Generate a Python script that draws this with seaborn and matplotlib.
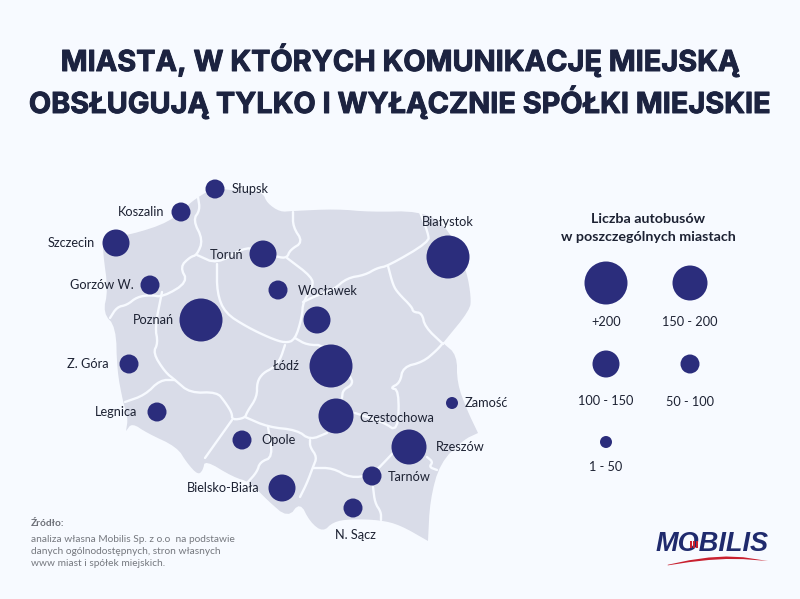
import matplotlib
matplotlib.use("Agg")
import numpy as np
import pandas as pd
import seaborn as sns
import matplotlib.pyplot as plt
from matplotlib.patches import Polygon, Rectangle
import matplotlib.patheffects as pe

sns.set_theme(style="white")
plt.rcParams['font.family'] = ['Lato', 'DejaVu Sans']

# ---------- data ----------
cities = ["Słupsk", "Koszalin", "Szczecin", "Gorzów W.", "Toruń", "Wocławek", "Płock", "Poznań",
          "Z. Góra", "Łódź", "Legnica", "Częstochowa", "Opole", "Rzeszów", "Tarnów",
          "Bielsko-Biała", "N. Sącz", "Zamość", "Białystok"]
city_x = [215, 181, 116, 150, 263, 278, 317, 201, 129, 331, 157, 336, 242, 409, 372, 282, 353, 452, 448]
city_y = [189, 212, 243, 285, 254, 290, 320, 320, 364, 366, 412, 416, 440, 447, 476, 488, 508, 403, 257]
city_class = ["50 - 100", "50 - 100", "100 - 150", "50 - 100", "100 - 150", "50 - 100", "100 - 150", "+200",
              "50 - 100", "+200", "50 - 100", "150 - 200", "50 - 100", "150 - 200", "50 - 100",
              "100 - 150", "50 - 100", "1 - 50", "+200"]
labels = ["Słupsk", "Koszalin", "Szczecin", "Gorzów W.", "Toruń", "Wocławek", "Poznań", "Z. Góra", "Łódź",
          "Legnica", "Częstochowa", "Opole", "Rzeszów", "Tarnów", "Bielsko-Biała", "N. Sącz", "Zamość", "Białystok"]
label_x = [232, 164, 95, 134, 243, 298, 174, 109, 300, 137, 359, 261, 436, 388, 259, 335, 465, 422]
label_y = [189, 212, 243, 285, 255, 291, 320, 364, 366, 412, 418, 440, 447, 477, 488, 535, 403, 222]
label_ha = ["left", "right", "right", "right", "right", "left", "right", "right", "right",
            "right", "left", "left", "left", "left", "right", "left", "left", "left"]

legend_classes = ["+200", "150 - 200", "100 - 150", "50 - 100", "1 - 50"]
legend_x = [606, 690, 606, 690, 606]
legend_y = [283, 283, 364, 364, 442]
legend_label_y = [322, 322, 401, 402, 467]
class_diam = [43, 35, 27, 19, 12]

title_lines = ["MIASTA, W KTÓRYCH KOMUNIKACJĘ MIEJSKĄ", "OBSŁUGUJĄ TYLKO I WYŁĄCZNIE SPÓŁKI MIEJSKIE"]
source_lines = ["analiza własna Mobilis Sp. z o.o  na podstawie", "danych ogólnodostępnych, stron własnych",
                "www miast i spółek miejskich."]

outline = [(103,238),(130,235),(170,222),(190,203),(200,196),(215,187),(227,190),(250,191),(263,193),(267,203),
           (280,212),(292,211),(337,209),(370,212),(420,211),(445,225),(458,250),(467,273),(471,297),(470,310),
           (443,343),(443,343),(457,355),(457,383),(467,410),(478,433),(478,433),(463,440),(440,463),(430,500),
           (428,541),(428,541),(428,541),(400,525),(380,520),(350,519),(333,522),(323,532),(310,522),(300,502),
           (288,518),(267,500),(250,482),(233,477),(205,460),(203,470),(198,475),(187,463),(177,447),(147,433),
           (132,423),(126,431),(126,431),(128,418),(123,402),(117,370),(116,327),(103,313),(108,290),(103,253)]
borders = [
    [(198,197),(200,210),(193,220),(203,240),(197,255),(190,257),(180,267),(188,282),(163,297),(150,295),(137,297),(127,305),(117,307),(110,318)],
    [(197,255),(217,264),(243,248),(257,249),(277,257),(287,258),(290,250),(303,242),(293,227),(293,212)],
    [(287,258),(312,277),(313,287),(303,302),(302,317),(295,340),(285,343),(270,338),(247,327),(225,313),(217,293),(217,264)],
    [(162,292),(155,327),(158,343),(153,353),(165,372),(175,380),(190,393),(217,392),(225,402),(232,413),(232,420),(245,418),(247,412),(257,397),(257,382),(263,373),(273,368),(280,360),(285,345)],
    [(175,380),(160,380),(145,395),(125,402)],
    [(232,420),(205,458)],
    [(245,417),(268,427),(297,430),(310,440),(327,433)],
    [(310,440),(310,447),(317,457),(313,467),(307,483),(300,497)],
    [(268,427),(273,457),(260,462),(257,472),(247,483)],
    [(295,338),(307,345),(325,345),(352,378),(352,385),(343,390),(342,398)],
    [(355,413),(383,422),(398,432),(399,390),(390,388),(400,383),(403,367),(423,362),(437,350),(443,343)],
    [(393,453),(372,475),(350,478),(333,468),(313,468)],
    [(373,487),(375,503),(381,512),(381,520)],
    [(427,457),(433,462),(429,467),(437,470)],
    [(420,212),(428,233),(429,242),(388,266),(377,268),(365,275),(347,278),(333,290),(318,295),(303,302)],
    [(388,266),(393,285),(398,293),(412,307),(413,312),(422,313),(425,327),(443,344)],
]

# ---------- styling ----------
BG = "#f7faff"
MAP = "#d9dce8"
NAVY = "#2b2d7c"
INK = "#1d2233"

def chaikin(points, n=2, closed=False):
    p = np.array(points, float)
    for _ in range(n):
        q = p if not closed else np.vstack([p, p[:1]])
        a = 0.75 * q[:-1] + 0.25 * q[1:]
        b = 0.25 * q[:-1] + 0.75 * q[1:]
        m = np.empty((2 * len(a), 2))
        m[0::2], m[1::2] = a, b
        p = m if closed else np.vstack([q[:1], m, q[-1:]])
    return p

fig = plt.figure(figsize=(8, 5.99), dpi=100, facecolor=BG)
ax = fig.add_axes([0, 0, 1, 1], facecolor=BG)

ax.add_patch(Polygon(chaikin(outline, 2, True), closed=True, fc=MAP, ec="none", zorder=1))
for b in borders:
    s = chaikin(b, 2)
    ax.plot(s[:, 0], s[:, 1], color="#f7faff", lw=1.7, zorder=2, solid_capstyle="round")

size_map = {c: (d * 0.72) ** 2 for c, d in zip(legend_classes, class_diam)}
df = pd.DataFrame({"x": city_x, "y": city_y, "cls": city_class})
sns.scatterplot(data=df, x="x", y="y", size="cls", sizes=size_map, color=NAVY, linewidth=0,
                legend=False, ax=ax, zorder=3)
leg = pd.DataFrame({"x": legend_x, "y": legend_y, "cls": legend_classes})
sns.scatterplot(data=leg, x="x", y="y", size="cls", sizes=size_map, color=NAVY, linewidth=0,
                legend=False, ax=ax, zorder=3)

ax.set_xlim(0, 800)
ax.set_ylim(599, 0)
ax.axis("off")

for t, x, y, ha in zip(labels, label_x, label_y, label_ha):
    ax.text(x, y, t, ha=ha, va="center", fontsize=9.2, color=INK, zorder=4)
for t, x, y in zip(legend_classes, legend_x, legend_label_y):
    ax.text(x, y, t, ha="center", va="center", fontsize=9.2, color=INK)

ax.text(648, 219, "Liczba autobusów", ha="center", va="center", fontsize=10.3, weight="bold", color=INK)
ax.text(648, 237, "w poszczególnych miastach", ha="center", va="center", fontsize=10.3, weight="bold", color=INK)

for t, y in zip(title_lines, [60, 102]):
    ax.text(400, y, t, ha="center", va="center", fontsize=20.8, weight="bold", family="Inter", color="#1c2340",
            path_effects=[pe.withStroke(linewidth=0.7, foreground="#1c2340")])

ax.text(31, 524, "Źródło:", ha="left", va="center", fontsize=7.3, weight="bold", color="#6d7078")
for t, y in zip(source_lines, [539, 551, 563]):
    ax.text(31, y, t, ha="left", va="center", fontsize=7.3, color="#75787f")

# logo
ax.text(656, 544, "MOBILIS", ha="left", va="center", fontsize=19.5, weight="bold", style="italic",
        family="Liberation Sans", color="#1f2a6d")
for bx in (689.5, 692.5, 695.5):
    ax.add_patch(Rectangle((bx, 541), 2, 7, fc="#c8202f", ec="none", zorder=5))
swoosh = chaikin([(657, 567), (700, 558), (735, 556), (768, 561), (768, 561), (735, 558.5), (700, 560.5)], 1, True)
ax.add_patch(Polygon(swoosh, closed=True, fc="#c8202f", ec="none"))

fig.savefig("out.png", dpi=100, facecolor=BG)
